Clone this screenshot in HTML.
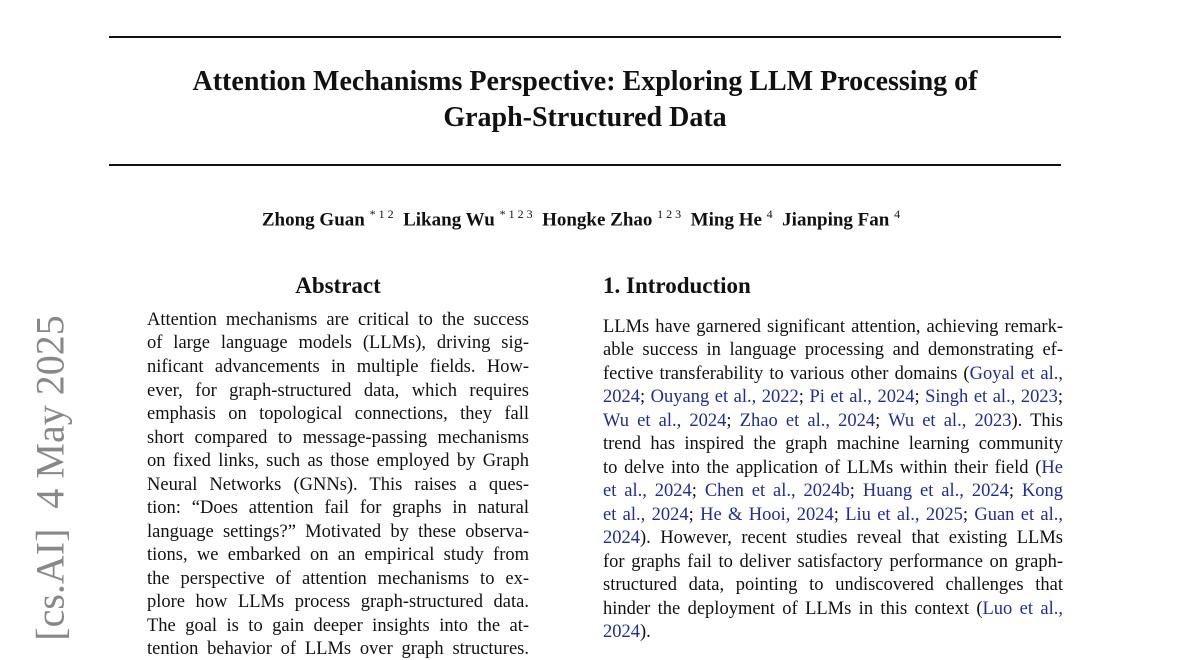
<!DOCTYPE html>
<html><head><meta charset="utf-8">
<style>
html,body{margin:0;padding:0;background:#fff;}
body{width:1200px;height:648px;position:relative;overflow:hidden;font-family:"Liberation Serif",serif;color:#111;}
.rule{position:absolute;left:109px;width:952px;height:2px;background:#111;}
.t{position:absolute;left:0;width:1170px;text-align:center;font-weight:bold;font-size:28px;}
.l{position:absolute;font-size:18.5px;line-height:22px;white-space:nowrap;text-align:justify;text-align-last:justify;}
.L{left:147px;width:382px;}
.R{left:603px;width:460px;}
.n{text-align-last:left;}
a{color:#1f2b9e;text-decoration:none;}
.side{position:absolute;left:50px;top:478px;transform:translate(-50%,-50%) rotate(-90deg);font-size:40px;color:#888;white-space:nowrap;}
h2{position:absolute;margin:0;font-size:23px;font-weight:bold;}
sup{font-weight:normal;font-size:12px}
</style></head><body>
<div class="rule" style="top:36px"></div>
<div class="t" style="top:66px">Attention Mechanisms Perspective: Exploring LLM Processing of</div>
<div class="t" style="top:102px">Graph-Structured Data</div>
<div class="rule" style="top:164px"></div>
<div style="position:absolute;left:0;width:1162px;top:207px;text-align:center;font-weight:bold;font-size:19px;">Zhong Guan <sup>* 1 2</sup>&nbsp; Likang Wu <sup>* 1 2 3</sup>&nbsp; Hongke Zhao <sup>1 2 3</sup>&nbsp; Ming He <sup>4</sup>&nbsp; Jianping Fan <sup>4</sup></div>
<div class="side">[cs.AI]&nbsp; 4 May 2025</div>
<h2 style="left:147px;width:382px;text-align:center;top:273px">Abstract</h2>
<h2 style="left:603px;top:273px">1. Introduction</h2>

<div class="l L" style="top:309px">Attention mechanisms are critical to the success</div>
<div class="l L" style="top:332px">of large language models (LLMs), driving sig-</div>
<div class="l L" style="top:356px">nificant advancements in multiple fields. How-</div>
<div class="l L" style="top:380px">ever, for graph-structured data, which requires</div>
<div class="l L" style="top:403px">emphasis on topological connections, they fall</div>
<div class="l L" style="top:427px">short compared to message-passing mechanisms</div>
<div class="l L" style="top:450px">on fixed links, such as those employed by Graph</div>
<div class="l L" style="top:474px">Neural Networks (GNNs). This raises a ques-</div>
<div class="l L" style="top:497px">tion: “Does attention fail for graphs in natural</div>
<div class="l L" style="top:521px">language settings?” Motivated by these observa-</div>
<div class="l L" style="top:544px">tions, we embarked on an empirical study from</div>
<div class="l L" style="top:568px">the perspective of attention mechanisms to ex-</div>
<div class="l L" style="top:591px">plore how LLMs process graph-structured data.</div>
<div class="l L" style="top:615px">The goal is to gain deeper insights into the at-</div>
<div class="l L" style="top:638px">tention behavior of LLMs over graph structures.</div>

<div class="l R" style="top:316px">LLMs have garnered significant attention, achieving remark-</div>
<div class="l R" style="top:339px">able success in language processing and demonstrating ef-</div>
<div class="l R" style="top:363px">fective transferability to various other domains (<a>Goyal et al.,</a></div>
<div class="l R" style="top:386px"><a>2024</a>; <a>Ouyang et al., 2022</a>; <a>Pi et al., 2024</a>; <a>Singh et al., 2023</a>;</div>
<div class="l R" style="top:410px"><a>Wu et al., 2024</a>; <a>Zhao et al., 2024</a>; <a>Wu et al., 2023</a>). This</div>
<div class="l R" style="top:433px">trend has inspired the graph machine learning community</div>
<div class="l R" style="top:457px">to delve into the application of LLMs within their field (<a>He</a></div>
<div class="l R" style="top:480px"><a>et al., 2024</a>; <a>Chen et al., 2024b</a>; <a>Huang et al., 2024</a>; <a>Kong</a></div>
<div class="l R" style="top:504px"><a>et al., 2024</a>; <a>He &amp; Hooi, 2024</a>; <a>Liu et al., 2025</a>; <a>Guan et al.,</a></div>
<div class="l R" style="top:527px"><a>2024</a>). However, recent studies reveal that existing LLMs</div>
<div class="l R" style="top:551px">for graphs fail to deliver satisfactory performance on graph-</div>
<div class="l R" style="top:574px">structured data, pointing to undiscovered challenges that</div>
<div class="l R" style="top:598px">hinder the deployment of LLMs in this context (<a>Luo et al.,</a></div>
<div class="l R n" style="top:621px"><a>2024</a>).</div>
</body></html>
